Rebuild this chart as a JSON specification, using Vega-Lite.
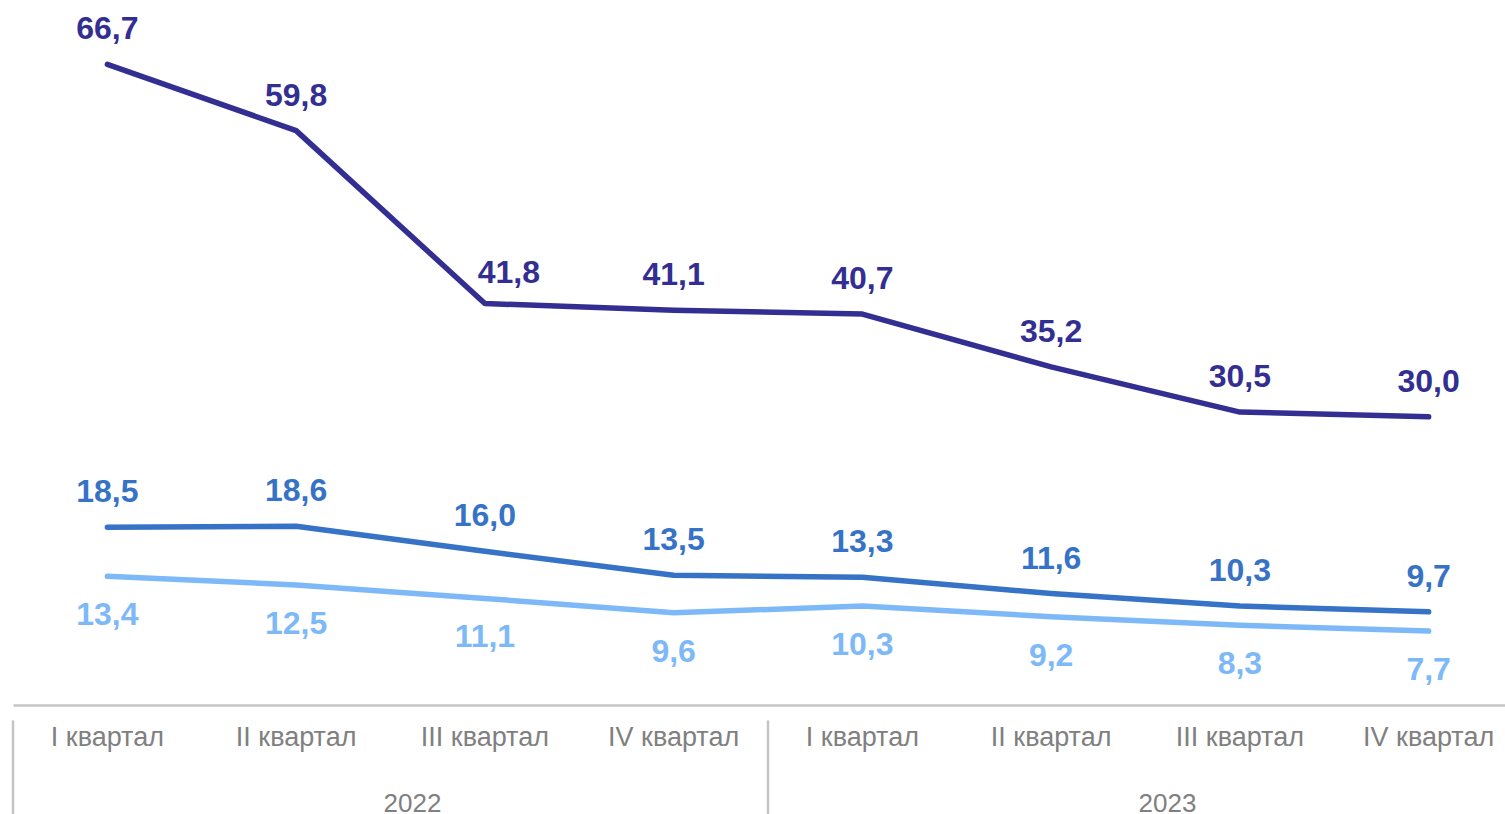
{
  "$schema": "https://vega.github.io/schema/vega-lite/v6.json",
  "autosize": {"type": "none"},
  "padding": {"left": 13, "top": 0, "right": 0, "bottom": 109},
  "width": 1510,
  "height": 705,
  "background": "white",
  "config": {
    "view": {"stroke": null},
    "font": "Liberation Sans",
    "locale": {"number": {"decimal": ",", "thousands": " ", "grouping": [3], "currency": ["", " ₽"]}}
  },
  "datasets": {
    "main": [
      {"q": "2022|I квартал", "series": "s1", "value": 66.7},
      {"q": "2022|II квартал", "series": "s1", "value": 59.8},
      {"q": "2022|III квартал", "series": "s1", "value": 41.8},
      {"q": "2022|IV квартал", "series": "s1", "value": 41.1},
      {"q": "2023|I квартал", "series": "s1", "value": 40.7},
      {"q": "2023|II квартал", "series": "s1", "value": 35.2},
      {"q": "2023|III квартал", "series": "s1", "value": 30.5},
      {"q": "2023|IV квартал", "series": "s1", "value": 30.0},
      {"q": "2022|I квартал", "series": "s2", "value": 18.5},
      {"q": "2022|II квартал", "series": "s2", "value": 18.6},
      {"q": "2022|III квартал", "series": "s2", "value": 16.0},
      {"q": "2022|IV квартал", "series": "s2", "value": 13.5},
      {"q": "2023|I квартал", "series": "s2", "value": 13.3},
      {"q": "2023|II квартал", "series": "s2", "value": 11.6},
      {"q": "2023|III квартал", "series": "s2", "value": 10.3},
      {"q": "2023|IV квартал", "series": "s2", "value": 9.7},
      {"q": "2022|I квартал", "series": "s3", "value": 13.4},
      {"q": "2022|II квартал", "series": "s3", "value": 12.5},
      {"q": "2022|III квартал", "series": "s3", "value": 11.1},
      {"q": "2022|IV квартал", "series": "s3", "value": 9.6},
      {"q": "2023|I квартал", "series": "s3", "value": 10.3},
      {"q": "2023|II квартал", "series": "s3", "value": 9.2},
      {"q": "2023|III квартал", "series": "s3", "value": 8.3},
      {"q": "2023|IV квартал", "series": "s3", "value": 7.7}
    ],
    "seps": [
      {"q": "2022|I квартал", "y1": -1.6, "y2": -12},
      {"q": "2023|I квартал", "y1": -1.6, "y2": -12}
    ],
    "years": [
      {"q": "2022|III квартал", "year": "2022", "y": -11.1},
      {"q": "2023|III квартал", "year": "2023", "y": -11.1}
    ]
  },
  "data": {"name": "main"},
  "encoding": {
    "x": {
      "field": "q",
      "type": "ordinal",
      "scale": {
        "type": "band",
        "domain": ["2022|I квартал", "2022|II квартал", "2022|III квартал", "2022|IV квартал", "2023|I квартал", "2023|II квартал", "2023|III квартал", "2023|IV квартал"],
        "paddingInner": 0,
        "paddingOuter": 0
      },
      "axis": {
        "title": null,
        "labelExpr": "split(datum.value, '|')[1]",
        "labelAngle": 0,
        "labelFontSize": 27,
        "labelColor": "#808080",
        "labelPadding": 19,
        "ticks": false,
        "tickSize": 0,
        "domainColor": "#C4C4C4",
        "domainWidth": 2.5,
        "grid": false
      }
    }
  },
  "layer": [
    {
      "mark": {"type": "line", "strokeWidth": 5.5, "strokeCap": "round", "strokeJoin": "round"},
      "encoding": {
        "y": {"field": "value", "type": "quantitative", "scale": {"domain": [0, 73.4], "nice": false, "zero": false}, "axis": null},
        "color": {
          "field": "series",
          "type": "nominal",
          "scale": {"domain": ["s1", "s2", "s3"], "range": ["#332E91", "#3673C6", "#7EB9F7"]},
          "legend": null
        }
      }
    },
    {
      "transform": [{"filter": "datum.series !== 's3' && !(datum.series === 's1' && datum.q === '2022|III квартал')"}],
      "mark": {"type": "text", "fontSize": 32, "fontWeight": "bold", "baseline": "alphabetic", "align": "center", "dy": -25},
      "encoding": {
        "y": {"field": "value", "type": "quantitative"},
        "text": {"field": "value", "type": "quantitative", "format": ".1f"},
        "color": {"field": "series", "type": "nominal"}
      }
    },
    {
      "transform": [{"filter": "datum.series === 's1' && datum.q === '2022|III квартал'"}],
      "mark": {"type": "text", "fontSize": 32, "fontWeight": "bold", "baseline": "alphabetic", "align": "center", "dy": -21, "dx": 24},
      "encoding": {
        "y": {"field": "value", "type": "quantitative"},
        "text": {"field": "value", "type": "quantitative", "format": ".1f"},
        "color": {"field": "series", "type": "nominal"}
      }
    },
    {
      "transform": [{"filter": "datum.series === 's3'"}],
      "mark": {"type": "text", "fontSize": 32, "fontWeight": "bold", "baseline": "alphabetic", "align": "center", "dy": 49},
      "encoding": {
        "y": {"field": "value", "type": "quantitative"},
        "text": {"field": "value", "type": "quantitative", "format": ".1f"},
        "color": {"field": "series", "type": "nominal"}
      }
    },
    {
      "data": {"name": "seps"},
      "mark": {"type": "rule", "color": "#C4C4C4", "strokeWidth": 2.5},
      "encoding": {
        "x": {"field": "q", "type": "ordinal", "bandPosition": 0},
        "y": {"field": "y1", "type": "quantitative"},
        "y2": {"field": "y2"}
      }
    },
    {
      "data": {"name": "years"},
      "mark": {"type": "text", "fontSize": 26, "color": "#808080", "baseline": "alphabetic", "align": "center", "dx": 22},
      "encoding": {
        "x": {"field": "q", "type": "ordinal", "bandPosition": 0},
        "y": {"field": "y", "type": "quantitative"},
        "text": {"field": "year", "type": "nominal"}
      }
    }
  ]
}
